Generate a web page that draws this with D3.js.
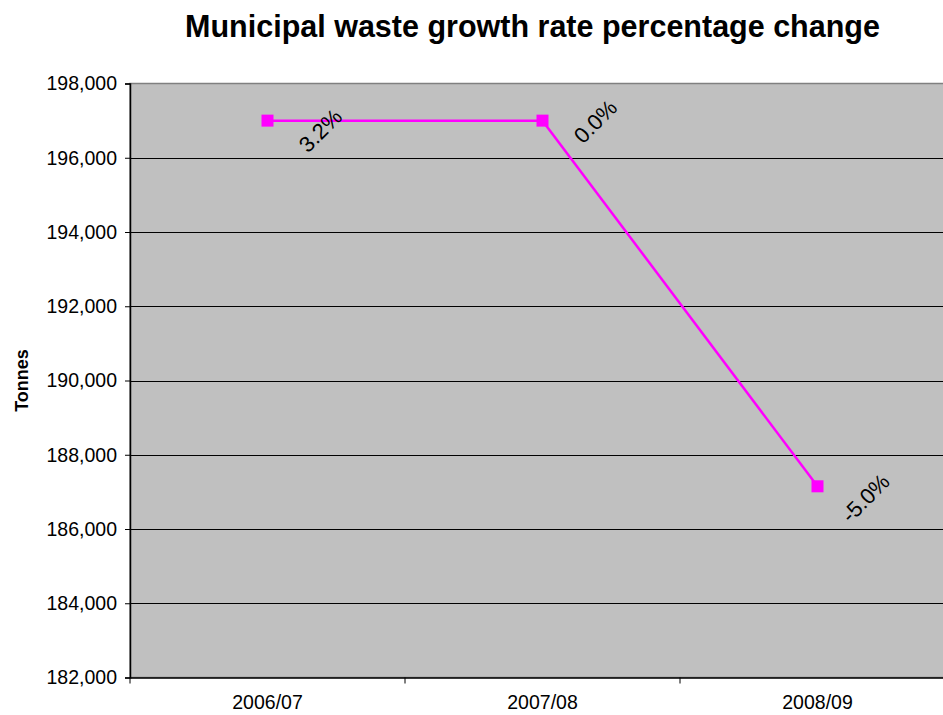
<!DOCTYPE html>
<html>
<head>
<meta charset="utf-8">
<script src="https://cdn.jsdelivr.net/npm/d3@7"></script>
<style>
  html, body { margin: 0; padding: 0; background: #fff; }
  svg { display: block; font-family: "Liberation Sans", Arial, sans-serif; }
</style>
</head>
<body>
<svg id="chart" width="943" height="715"></svg>
<script>
// Municipal waste tonnage by financial year, with year-on-year growth labels
const years = ["2006/07", "2007/08", "2008/09"];
const tonnes = [197000, 197000, 187150];
const growthLabels = ["3.2%", "0.0%", "-5.0%"];
const yTicks = [182000, 184000, 186000, 188000, 190000, 192000, 194000, 196000, 198000];

const svg = d3.select("#chart");
const plot = { left: 130, top: 83.5, right: 955, bottom: 677.5 };

const x = d3.scaleBand().domain(years).range([plot.left, plot.right]).padding(0);
const y = d3.scaleLinear().domain([182000, 198000]).range([plot.bottom, plot.top]);

// Plot background
svg.append("rect")
  .attr("x", plot.left).attr("y", plot.top)
  .attr("width", plot.right - plot.left).attr("height", plot.bottom - plot.top)
  .attr("fill", "#c0c0c0")
  .attr("stroke", "#808080").attr("stroke-width", 1.5);

// Horizontal gridlines
svg.append("g")
  .selectAll("line")
  .data(yTicks.slice(1, -1))
  .join("line")
  .attr("x1", plot.left).attr("x2", plot.right)
  .attr("y1", d => Math.round(y(d)) + 0.5).attr("y2", d => Math.round(y(d)) + 0.5)
  .attr("stroke", "#000").attr("stroke-width", 1);

// Y axis
const yAxis = svg.append("g")
  .attr("transform", `translate(${plot.left},0)`)
  .call(d3.axisLeft(y).tickValues(yTicks).tickFormat(d3.format(",")).tickSize(5).tickPadding(8));
yAxis.select(".domain").attr("stroke", "#000").attr("stroke-width", 1.5);
yAxis.selectAll(".tick line").attr("stroke", "#000");
yAxis.selectAll(".tick text").attr("font-size", 19.5).attr("fill", "#000")
  .attr("font-family", "Liberation Sans, Arial, sans-serif");

// X axis with tick marks at category boundaries
const xAxis = svg.append("g")
  .attr("transform", `translate(0,${plot.bottom})`)
  .call(d3.axisBottom(x).tickSize(0).tickPadding(18));
xAxis.select(".domain").attr("stroke", "#000").attr("stroke-width", 1.5);
xAxis.selectAll(".tick text").attr("font-size", 19.5).attr("fill", "#000")
  .attr("font-family", "Liberation Sans, Arial, sans-serif");
svg.append("g")
  .selectAll("line")
  .data(years)
  .join("line")
  .attr("x1", d => x(d)).attr("x2", d => x(d))
  .attr("y1", plot.bottom).attr("y2", plot.bottom + 6)
  .attr("stroke", "#000");

// Data line
const cx = d => x(d) + x.bandwidth() / 2;
const pts = years.map((yr, i) => [cx(yr), y(tonnes[i])]);
svg.append("path")
  .attr("d", d3.line()(pts))
  .attr("fill", "none")
  .attr("stroke", "#ff00ff")
  .attr("stroke-width", 2.5);

// Square markers
svg.append("g")
  .selectAll("rect")
  .data(pts)
  .join("rect")
  .attr("x", d => d[0] - 6).attr("y", d => d[1] - 6)
  .attr("width", 12).attr("height", 12)
  .attr("fill", "#ff00ff");

// Rotated growth labels, nudged right of each marker
const labelNudge = [[53, 10], [53, 1], [48, 12]];
svg.append("g")
  .selectAll("text")
  .data(pts)
  .join("text")
  .attr("transform", (d, i) => `translate(${d[0] + labelNudge[i][0]},${d[1] + labelNudge[i][1]}) rotate(-45)`)
  .attr("text-anchor", "middle")
  .attr("dominant-baseline", "central")
  .attr("font-size", 22)
  .attr("fill", "#000")
  .text((d, i) => growthLabels[i]);

// Title
svg.append("text")
  .attr("x", 532.5).attr("y", 37)
  .attr("text-anchor", "middle")
  .attr("font-size", 30.5)
  .attr("font-weight", "bold")
  .attr("fill", "#000")
  .text("Municipal waste growth rate percentage change");

// Y axis title
svg.append("text")
  .attr("transform", `translate(28,${(plot.top + plot.bottom) / 2}) rotate(-90)`)
  .attr("text-anchor", "middle")
  .attr("font-size", 18)
  .attr("font-weight", "bold")
  .attr("fill", "#000")
  .text("Tonnes");
</script>
</body>
</html>
